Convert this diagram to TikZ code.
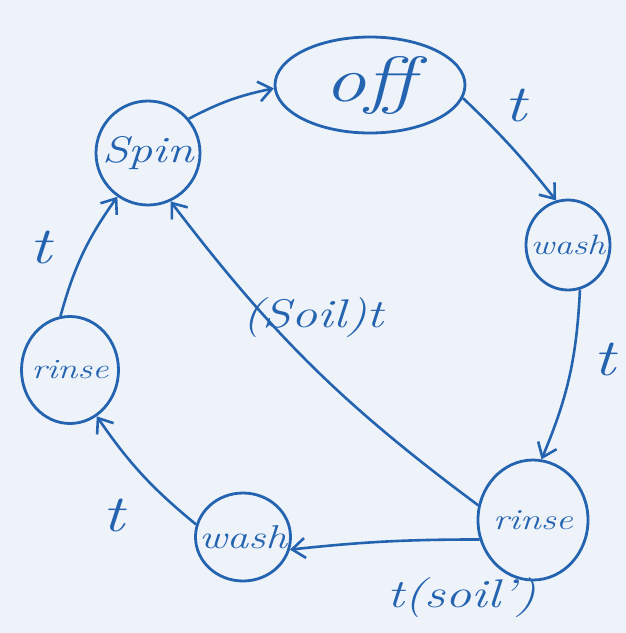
\documentclass[tikz,border=0pt]{standalone}
\usepackage{fontspec}
\setmainfont{Latin Modern Roman}[FakeStretch=1.3]
\usetikzlibrary{shapes.geometric,arrows.meta}
\definecolor{ink}{HTML}{2463B0}
\definecolor{paper}{HTML}{EEF3FA}
\newcommand{\fsz}[1]{\fontsize{#1}{#1}\selectfont\itshape}
\begin{document}
\begin{tikzpicture}[x=1pt,y=-1pt,
  state/.style={draw=ink,line width=2.8pt,ellipse,inner sep=0pt},
  stxt/.style 2 args={label={[text=ink,font=\fsz{#1},inner sep=0pt]center:#2}},
  edge/.style={draw=ink,line width=2.6pt,-{Straight Barb[length=13pt,width=20pt,line width=2.6pt]}},
  lbl/.style={text=ink,font=\fsz{52}},
  lblw/.style={text=ink,font=\fsz{40}}]
\fill[paper] (0,0) rectangle (626,633);
\useasboundingbox (0,0) rectangle (626,633);
\node[state,minimum width=190pt,minimum height=96pt,stxt={64}{off}] (off) at (370,85) {};
\node[state,minimum width=104pt,minimum height=104pt,stxt={37}{Spin}] (spin) at (148,153) {};
\node[state,minimum width=84pt,minimum height=90pt,stxt={28}{wash}] (washR) at (568,245) {};
\node[state,minimum width=110pt,minimum height=120pt,stxt={29}{rinse}] (rinseBR) at (533,520) {};
\node[state,minimum width=95pt,minimum height=88pt,stxt={33}{wash}] (washB) at (243,537) {};
\node[state,minimum width=97pt,minimum height=107pt,stxt={28}{rinse}] (rinseL) at (70,370) {};
\draw[edge] (spin.40) to[bend left=8] (off.182);
\draw[edge] (off.-8) to[bend left=4] (washR.105);
\draw[edge] (washR.-75) to[bend left=10] (rinseBR.82);
\draw[edge] (rinseBR.200) to[bend right=3] (washB.-15);
\draw[edge] (washB.165) to[bend left=8] (rinseL.-60);
\draw[edge] (rinseL.100) to[bend left=10] (spin.-125);
\draw[edge] (rinseBR.165) to[bend left=8] (spin.-65);
\node[lbl] (l1) at (515,106) {t};
\node[lbl] (l2) at (604,360) {t};
\node[lbl] (l3) at (40,248) {t};
\node[lbl] (l4) at (113,516) {t};
\node[lblw] (l5) at (313,318) {(Soil)t};
\node[lblw] (l6) at (462,598) {t(soil')};
\end{tikzpicture}
\end{document}
